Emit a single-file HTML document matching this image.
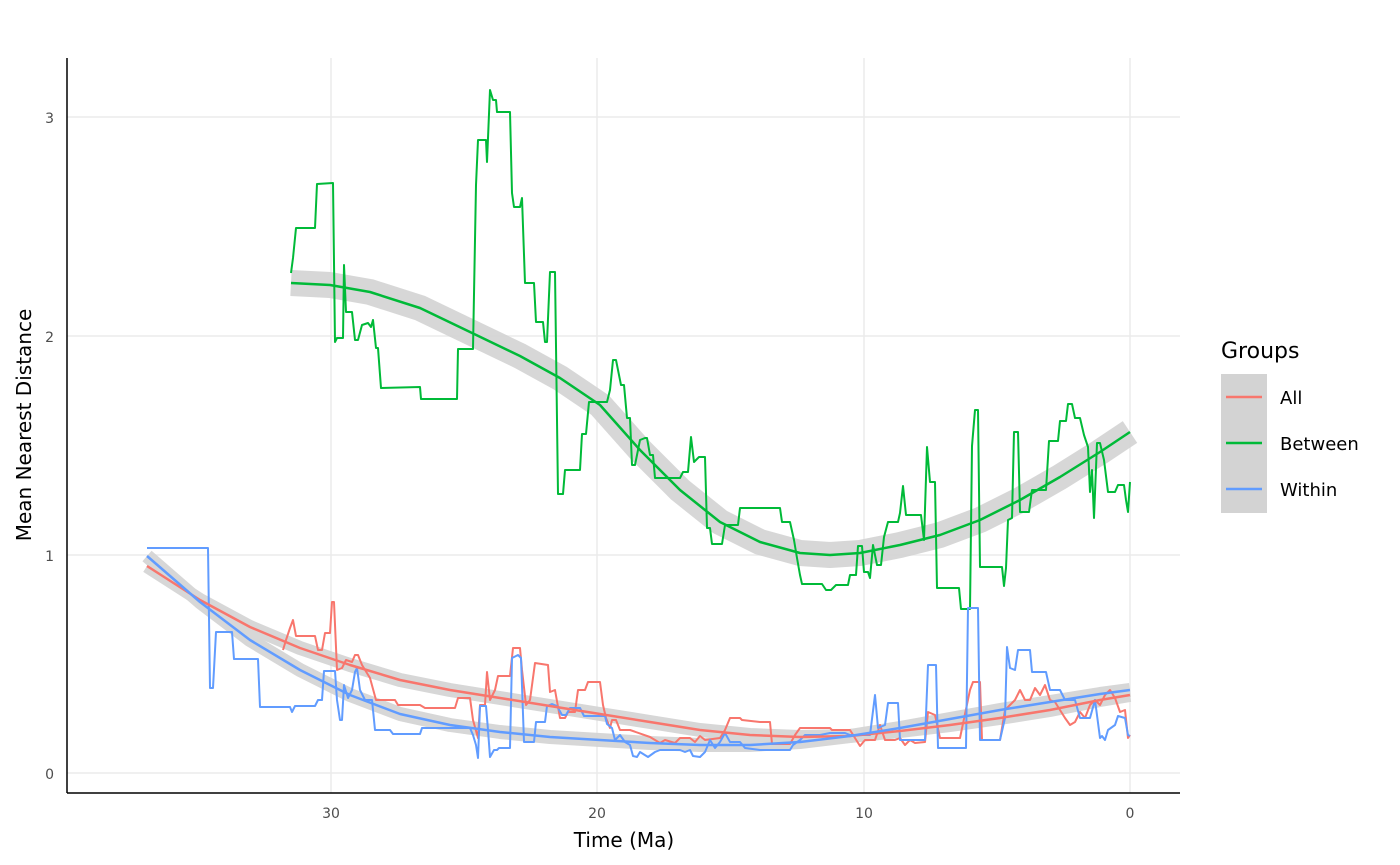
<!DOCTYPE html>
<html><head><style>body{margin:0;background:#fff}svg{display:block;font-family:"DejaVu Sans","Liberation Sans",sans-serif}</style></head><body>
<svg width="1400" height="865" viewBox="0 0 1400 865">
<g stroke="#ebebeb" stroke-width="1.5">
<line x1="67" y1="773" x2="1180" y2="773"/><line x1="67" y1="555" x2="1180" y2="555"/><line x1="67" y1="336" x2="1180" y2="336"/><line x1="67" y1="117" x2="1180" y2="117"/>
<line x1="331" y1="58" x2="331" y2="793"/><line x1="597" y1="58" x2="597" y2="793"/><line x1="864" y1="58" x2="864" y2="793"/><line x1="1130" y1="58" x2="1130" y2="793"/>
</g>
<g fill="none" stroke="#d3d3d3" stroke-linejoin="round" stroke-linecap="butt" opacity="0.9">
<polyline stroke-width="26" points="291,283 330,285 370,292 420,308 470,332 520,356 560,378 600,405 640,450 680,490 720,522 760,542 800,553 830,555 860,553 900,545 940,535 980,520 1020,500 1060,477 1100,452 1130,432"/>
<polyline stroke-width="14" points="147,566 200,600 250,627 300,648 350,665 400,680 450,690 500,698 550,706 600,714 650,722 700,730 750,735 800,737 850,736 900,731 950,725 1000,718 1050,710 1100,700 1130,695"/>
<polyline stroke-width="14" points="147,556 200,602 250,640 300,670 350,695 400,714 450,725 500,732 550,737 600,740 650,743 700,745 750,745 800,742 850,736 900,728 950,719 1000,710 1050,702 1100,694 1130,690"/>
</g>
<g fill="none" stroke-width="2" stroke-linejoin="round">
<polyline stroke="#00ba38" points="291,273 293,258 296,228 315,228 317,184 333,183 335,342 337,338 343,338 344,265 346,312 352,312 355,340 358,340 362,325 368,323 371,327 373,320 376,348 378,348 381,388 420,387 421,399 457,399 458,349 473,349 476,185 478,140 486,140 487,162 490,90 493,100 496,100 497,112 510,112 512,193 514,207 520,207 522,198 525,283 534,283 536,322 543,322 545,342 547,342 550,272 555,272 558,494 563,494 565,470 580,470 582,434 586,434 589,402 607,402 610,390 613,360 616,360 621,385 624,385 627,418 630,418 632,465 635,465 640,440 645,438 647,438 650,455 653,455 655,478 680,478 683,472 688,472 691,437 694,462 699,457 705,457 707,528 710,528 712,544 722,544 725,525 738,525 740,508 780,508 782,522 790,522 794,540 797,558 800,575 802,584 822,584 826,590 831,590 836,585 848,585 850,575 856,575 858,546 862,546 864,572 868,572 870,578 873,545 877,565 881,565 884,537 888,522 898,522 900,513 903,486 906,515 921,515 924,540 927,447 930,482 935,482 937,588 959,588 961,609 970,609 972,446 975,410 978,410 980,567 1002,567 1004,586 1006,568 1008,520 1012,518 1014,432 1018,432 1020,512 1029,512 1032,490 1046,490 1049,441 1058,441 1060,421 1066,421 1068,404 1072,404 1075,418 1080,418 1084,435 1088,447 1090,492 1092,470 1094,518 1097,443 1100,443 1104,460 1108,492 1115,492 1118,485 1124,485 1126,500 1128,512 1130,482"/>
<polyline stroke="#f8766d" points="283,650 286,640 290,628 293,620 296,636 315,636 318,650 322,650 325,633 330,633 332,602 334,602 337,670 342,668 346,660 352,662 355,655 358,655 362,665 370,678 376,700 395,700 398,705 420,705 425,708 455,708 458,698 470,698 473,720 478,738 480,705 485,705 487,672 490,700 495,690 498,676 510,676 513,648 520,648 522,670 526,705 530,700 535,663 548,665 550,692 555,690 560,718 565,718 568,712 575,712 578,690 585,690 588,682 600,682 603,705 606,718 610,728 612,720 616,720 620,730 630,730 650,737 660,743 665,740 675,743 680,738 690,738 695,742 700,736 705,740 720,738 725,730 730,718 740,718 742,720 760,722 770,722 772,744 790,744 795,735 800,728 830,728 832,730 850,730 855,738 860,746 865,740 875,740 880,725 885,740 895,740 900,738 905,745 910,740 915,743 925,742 928,712 935,715 940,738 960,738 970,690 973,682 980,682 982,740 1000,740 1005,710 1010,705 1015,700 1020,690 1025,700 1030,700 1035,688 1040,695 1045,685 1050,700 1055,702 1060,710 1065,718 1070,725 1075,722 1080,712 1085,718 1090,705 1095,700 1100,705 1105,695 1110,690 1115,698 1120,712 1125,710 1128,738 1130,735"/>
<polyline stroke="#619cff" points="147,548 208,548 210,688 213,688 216,632 232,632 234,659 258,659 260,707 290,707 292,712 295,706 315,706 318,700 322,700 324,671 335,671 337,700 340,720 342,720 344,685 348,698 352,690 355,672 357,668 360,690 365,700 372,700 375,730 390,730 393,734 420,734 422,728 470,728 473,735 476,745 478,758 480,706 486,706 488,730 490,757 494,750 497,750 499,748 510,748 512,658 518,655 521,658 524,742 534,742 536,722 545,722 547,706 552,704 557,706 562,715 566,715 570,708 580,708 584,716 600,716 605,716 607,724 612,728 615,740 620,735 625,742 630,745 633,756 637,757 640,752 648,757 655,752 660,750 680,750 685,752 690,750 693,756 700,757 705,752 710,740 715,748 720,742 725,733 730,742 740,742 745,748 760,750 790,750 793,745 800,740 805,735 820,735 830,733 845,733 850,735 870,735 875,695 878,728 885,725 888,703 898,703 900,740 925,740 928,665 936,665 938,748 966,748 968,608 978,608 980,740 1000,740 1005,718 1007,647 1010,668 1015,670 1018,650 1030,650 1032,672 1046,672 1050,690 1060,690 1065,700 1075,700 1080,718 1090,718 1095,700 1100,738 1102,736 1105,740 1108,730 1115,725 1118,716 1125,718 1128,735 1130,736"/>
</g>
<g fill="none" stroke-width="2.5" stroke-linejoin="round">
<polyline stroke="#00ba38" points="291,283 330,285 370,292 420,308 470,332 520,356 560,378 600,405 640,450 680,490 720,522 760,542 800,553 830,555 860,553 900,545 940,535 980,520 1020,500 1060,477 1100,452 1130,432"/>
<polyline stroke="#f8766d" points="147,566 200,600 250,627 300,648 350,665 400,680 450,690 500,698 550,706 600,714 650,722 700,730 750,735 800,737 850,736 900,731 950,725 1000,718 1050,710 1100,700 1130,695"/>
<polyline stroke="#619cff" points="147,556 200,602 250,640 300,670 350,695 400,714 450,725 500,732 550,737 600,740 650,743 700,745 750,745 800,742 850,736 900,728 950,719 1000,710 1050,702 1100,694 1130,690"/>
</g>
<g stroke="#000" stroke-width="1.5"><line x1="67" y1="58" x2="67" y2="793"/><line x1="67" y1="793" x2="1180" y2="793"/></g>
<g font-size="14" fill="#4d4d4d" text-anchor="end">
<text x="54" y="779">0</text><text x="54" y="561">1</text><text x="54" y="342">2</text><text x="54" y="123">3</text></g>
<g font-size="14" fill="#4d4d4d" text-anchor="middle">
<text x="331" y="818">30</text><text x="597" y="818">20</text><text x="864" y="818">10</text><text x="1130" y="818">0</text></g>
<text x="624" y="847" font-size="20" text-anchor="middle">Time (Ma)</text>
<text transform="translate(31,425) rotate(-90)" font-size="20" text-anchor="middle">Mean Nearest Distance</text>
<text x="1221" y="358" font-size="22">Groups</text>
<rect x="1221" y="374" width="46" height="139" fill="#d3d3d3"/>
<line x1="1226" y1="397" x2="1262" y2="397" stroke="#f8766d" stroke-width="2.5"/>
<line x1="1226" y1="443" x2="1262" y2="443" stroke="#00ba38" stroke-width="2.5"/>
<line x1="1226" y1="489" x2="1262" y2="489" stroke="#619cff" stroke-width="2.5"/>
<g font-size="18"><text x="1280" y="404">All</text><text x="1280" y="450">Between</text><text x="1280" y="496">Within</text></g>
</svg>
</body></html>
